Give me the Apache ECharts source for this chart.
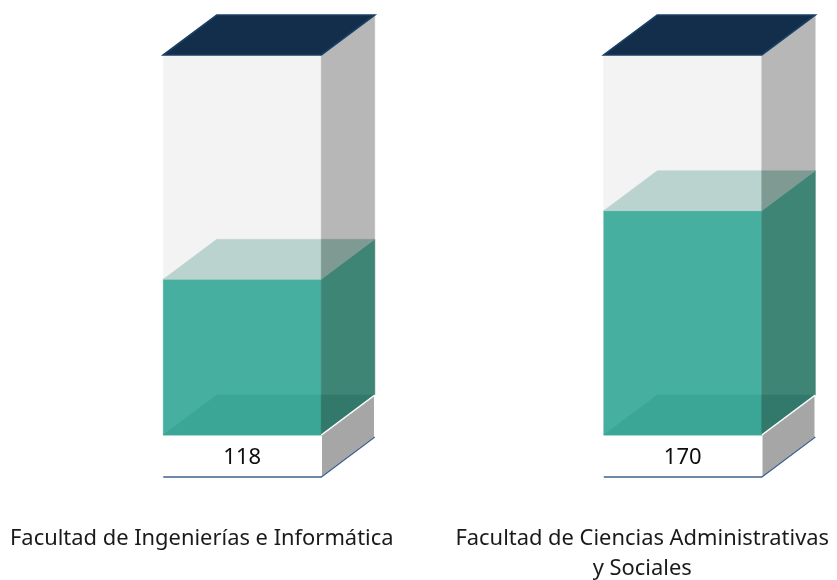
<!DOCTYPE html>
<html><head><meta charset="utf-8">
<style>html,body{margin:0;padding:0;background:#fff}#c{width:837px;height:580px}</style>
<script src="https://cdn.jsdelivr.net/npm/echarts@6/dist/echarts.min.js"></script>
</head><body><div id="c"></div>
<script>
const categories = ['Facultad de Ingenierías e Informática', 'Facultad de Ciencias Administrativas\ny Sociales'];
const values = [118, 170];
const total = 288;

const W = 158, DX = 53.5, DY = 40, BASE = 42;
const poly = (points, fill, stroke, lw) => ({
  type: 'polygon',
  shape: { points },
  style: { fill, stroke: stroke || fill, lineWidth: lw === undefined ? 0.5 : lw }
});

function renderItem(params, api) {
  const i = api.value(0), v = api.value(1);
  const c = api.coord([i, v]);
  const y0 = api.coord([i, 0])[1];
  const yT = api.coord([i, total])[1];
  const yV = c[1];
  const xL = c[0] - W / 2, xR = c[0] + W / 2, xB = xR + DX, xBL = xL + DX;
  const ch = [
    // base
    poly([[xL, y0], [xR, y0], [xR, y0 + BASE], [xL, y0 + BASE]], '#ffffff'),
    poly([[xR, y0], [xB, y0 - DY], [xB, y0 - DY + BASE], [xR, y0 + BASE]], '#a6a6a6', '#ffffff', 1.5),
    {
      type: 'polyline',
      shape: { points: [[xL, y0 + BASE], [xR, y0 + BASE], [xB, y0 - DY + BASE]] },
      style: { fill: 'none', stroke: '#41618c', lineWidth: 1.5 }
    },
    // empty walls
    poly([[xL, yT], [xR, yT], [xR, y0], [xL, y0]], '#f3f3f3'),
    poly([[xR, yT], [xB, yT - DY], [xB, y0 - DY], [xR, y0]], '#b7b7b7'),
    // liquid
    poly([[xL, yV], [xR, yV], [xR, y0], [xL, y0]], '#47afa0'),
    poly([[xR, yV], [xB, yV - DY], [xB, y0 - DY], [xR, y0]], '#3f8576'),
    // liquid surface
    poly([[xL, yV], [xBL, yV - DY], [xR, yV - DY], [xR, yV]], '#bad3ce'),
    poly([[xR, yV - DY], [xB, yV - DY], [xR, yV]], '#7f9a93'),
    // floor seen through liquid
    poly([[xL, y0], [xBL, y0 - DY], [xR, y0 - DY], [xR, y0]], '#3ba695'),
    poly([[xR, y0 - DY], [xB, y0 - DY], [xR, y0]], '#33796b'),
    { type: 'line', shape: { x1: xR, y1: y0, x2: xB, y2: y0 - DY }, style: { stroke: '#ffffff', lineWidth: 1.5 } },
    // lid
    poly([[xL, yT], [xBL, yT - DY], [xB, yT - DY], [xR, yT]], '#122e4b', '#1a3f66', 1.6),
    {
      type: 'text',
      style: {
        text: String(v), x: c[0], y: y0 + BASE / 2 + 1.5, align: 'center', verticalAlign: 'middle',
        fill: '#0d0d0d', font: '22px "Noto Sans", sans-serif'
      }
    }
  ];
  return { type: 'group', children: ch };
}

const chart = echarts.init(document.getElementById('c'), null, { renderer: 'canvas' });
chart.setOption({
  animation: false,
  backgroundColor: '#ffffff',
  grid: { left: 22, top: 55, width: 881, height: 380, outerBoundsMode: 'none', containLabel: false },
  xAxis: {
    type: 'category', data: categories,
    axisLine: { show: false }, axisTick: { show: false }, splitLine: { show: false },
    axisLabel: {
      interval: 0, margin: 89, color: '#1a1a1a', fontSize: 21.9, lineHeight: 30,
      fontFamily: '"Noto Sans", sans-serif', padding: [0, 81, 0, 0], verticalAlign: 'top',
      hideOverlap: false
    }
  },
  yAxis: { type: 'value', min: 0, max: total, show: false },
  series: [{
    type: 'custom', renderItem, clip: false,
    encode: { x: 0, y: 1 },
    data: values.map((v, i) => [i, v])
  }]
});
</script></body></html>
